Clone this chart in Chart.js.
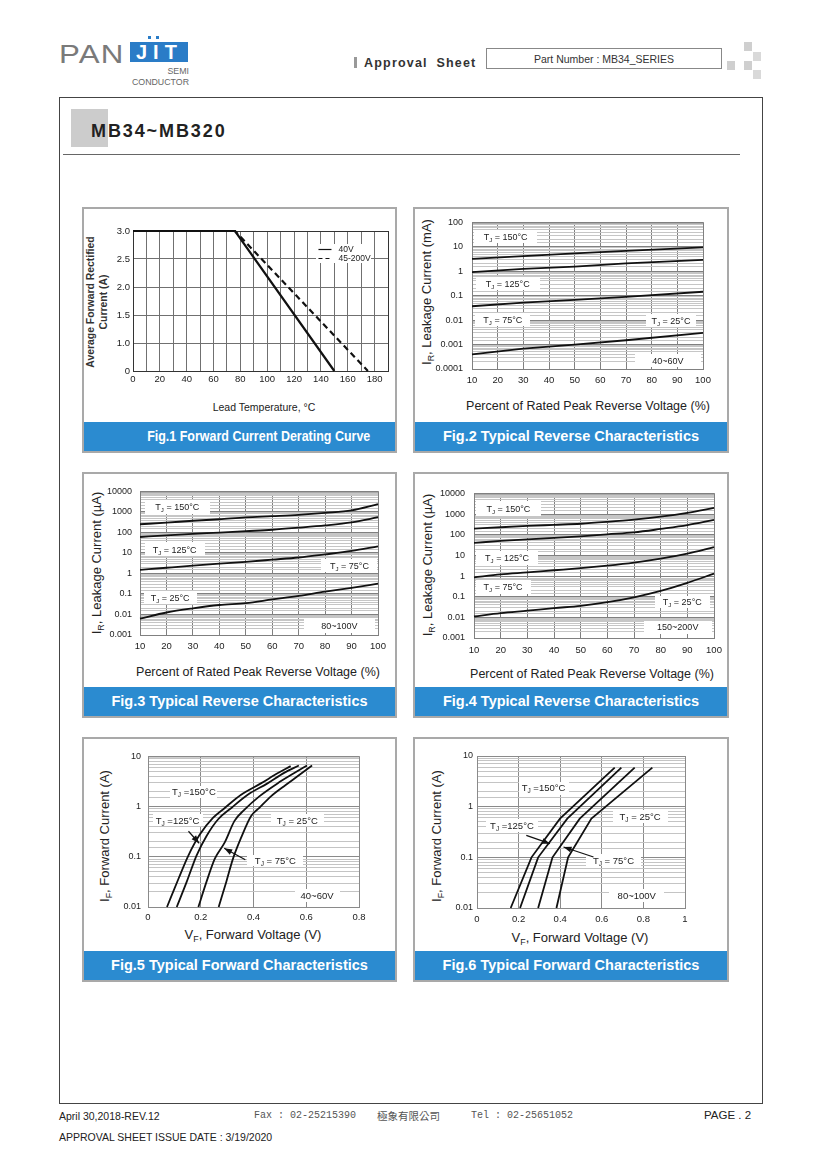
<!DOCTYPE html>
<html>
<head>
<meta charset="utf-8">
<title>MB34~MB320</title>
<script src="https://cdn.jsdelivr.net/npm/chart.js@4.4.1/dist/chart.umd.min.js"></script>
<style>
  body { margin: 0; background: #fff; }
  #page { position: relative; width: 820px; height: 1161px; overflow: hidden; font-family: Arial, "Liberation Sans", sans-serif; color: #222; }
  .t { position: absolute; white-space: nowrap; line-height: 1; }
  .panel { position: absolute; border: 2px solid #a9a9a9; box-sizing: border-box; }
  .cap { position: absolute; left: 0; right: 0; bottom: 0; height: 29px; line-height: 29px; background: #2b8bd0; color: #fff; font-weight: bold; font-size: 14.5px; text-align: center; white-space: nowrap; }
  canvas { position: absolute; }
  .yt { position: absolute; white-space: nowrap; line-height: 1; transform: translate(-50%, -50%) rotate(-90deg); }
  .xt { position: absolute; white-space: nowrap; line-height: 1; transform: translate(-50%, -50%); }
  sub { font-size: 68%; vertical-align: -3px; line-height: 0; }
  .sq { position: absolute; width: 8px; height: 9px; background: #cfcfcf; }
</style>
</head>
<body>
<div id="page">
  <!-- header -->
  <div class="t" style="left:59px;top:42px;font-size:25px;color:#7a7a7a;letter-spacing:1px;transform:scaleX(1.25);transform-origin:left top;">PAN</div>
  <div class="t" style="left:130px;top:42px;width:58px;height:20px;background:#2a7cc7;color:#fff;font-size:20px;font-weight:bold;line-height:21px;letter-spacing:6px;padding-left:6px;box-sizing:border-box;">JIT</div>
  <div class="t" style="left:148px;top:36px;width:3px;height:3px;background:#2a7cc7;"></div>
  <div class="t" style="left:156px;top:36px;width:3px;height:3px;background:#2a7cc7;"></div>
  <div class="t" style="left:131px;top:67px;width:58px;text-align:right;font-size:8.8px;color:#666;">SEMI</div>
  <div class="t" style="left:126px;top:78px;width:63px;text-align:right;font-size:8.8px;color:#666;">CONDUCTOR</div>

  <div class="t" style="left:354px;top:57px;width:3px;height:11px;background:#999;"></div>
  <div class="t" style="left:364px;top:57px;font-size:12.5px;font-weight:bold;letter-spacing:1.2px;word-spacing:4px;color:#333;">Approval Sheet</div>
  <div class="t" style="left:486px;top:48px;width:236px;height:21px;border:1px solid #888;box-sizing:border-box;text-align:center;font-size:10.5px;line-height:20px;color:#333;">Part Number : MB34_SERIES</div>
  <div class="sq" style="left:744px;top:42px;"></div>
  <div class="sq" style="left:753px;top:52px;background:#d9d9d9;"></div>
  <div class="sq" style="left:727px;top:61px;"></div>
  <div class="sq" style="left:744px;top:61px;"></div>
  <div class="sq" style="left:753px;top:70px;background:#d9d9d9;"></div>

  <!-- frame -->
  <div class="t" style="left:59px;top:97px;width:704px;height:1007px;border:1px solid #444;box-sizing:border-box;"></div>
  <div class="t" style="left:71px;top:109px;width:37px;height:38px;background:#cccccc;"></div>
  <div class="t" style="left:91px;top:122px;font-size:18px;font-weight:bold;letter-spacing:1.9px;color:#222;">MB34~MB320</div>
  <div class="t" style="left:63px;top:154px;width:677px;height:1px;background:#666;"></div>

  <!-- panels -->
  <div class="panel" style="left:82px;top:207px;width:315px;height:246px;"><div class="cap" style="padding-left:38px;"><span style="display:inline-block;transform:scaleX(0.86);">Fig.1 Forward Current Derating Curve</span></div></div>
  <div class="panel" style="left:413px;top:207px;width:316px;height:246px;"><div class="cap">Fig.2 Typical Reverse Characteristics</div></div>
  <div class="panel" style="left:82px;top:472px;width:315px;height:246px;"><div class="cap">Fig.3 Typical Reverse Characteristics</div></div>
  <div class="panel" style="left:413px;top:472px;width:316px;height:246px;"><div class="cap">Fig.4 Typical Reverse Characteristics</div></div>
  <div class="panel" style="left:82px;top:737px;width:315px;height:245px;"><div class="cap">Fig.5 Typical Forward Characteristics</div></div>
  <div class="panel" style="left:413px;top:737px;width:316px;height:245px;"><div class="cap">Fig.6 Typical Forward Characteristics</div></div>

  <!-- axis titles -->
  <div class="yt" style="left:97px;top:302px;font-size:10.4px;font-weight:bold;line-height:12.5px;text-align:center;color:#333;">Average Forward Rectified<br>Current (A)</div>
  <div class="xt" style="left:264px;top:407px;font-size:10.5px;">Lead Temperature, °C</div>

  <div class="yt" style="left:426px;top:292px;font-size:13px;">I<sub>R</sub>, Leakage Current (mA)</div>
  <div class="xt" style="left:588px;top:406px;font-size:12.5px;">Percent of Rated Peak Reverse Voltage (%)</div>

  <div class="yt" style="left:96px;top:563px;font-size:13px;">I<sub>R</sub>, Leakage Current (µA)</div>
  <div class="xt" style="left:258px;top:672px;font-size:12.5px;">Percent of Rated Peak Reverse Voltage (%)</div>

  <div class="yt" style="left:427px;top:565px;font-size:13px;">I<sub>R</sub>, Leakage Current (µA)</div>
  <div class="xt" style="left:592px;top:674px;font-size:12.5px;">Percent of Rated Peak Reverse Voltage (%)</div>

  <div class="yt" style="left:104px;top:836px;font-size:13px;">I<sub>F</sub>, Forward Current (A)</div>
  <div class="xt" style="left:253px;top:934px;font-size:13px;">V<sub>F</sub>, Forward Voltage (V)</div>

  <div class="yt" style="left:436px;top:836px;font-size:13px;">I<sub>F</sub>, Forward Current (A)</div>
  <div class="xt" style="left:580px;top:937px;font-size:13px;">V<sub>F</sub>, Forward Voltage (V)</div>

  <canvas id="fig1"></canvas>
  <canvas id="fig2"></canvas>
  <canvas id="fig3"></canvas>
  <canvas id="fig4"></canvas>
  <canvas id="fig5"></canvas>
  <canvas id="fig6"></canvas>

  <!-- footer -->
  <div class="t" style="left:59px;top:1111px;font-size:10.5px;">April 30,2018-REV.12</div>
  <div class="t" style="left:254px;top:1111px;font-size:10px;font-family:'Liberation Mono',monospace;color:#555;">Fax : 02-25215390</div>
  <div class="t" style="left:377px;top:1111px;font-size:10.5px;font-family:'Noto Sans CJK TC',sans-serif;color:#555;">極象有限公司</div>
  <div class="t" style="left:471px;top:1111px;font-size:10px;font-family:'Liberation Mono',monospace;color:#555;">Tel : 02-25651052</div>
  <div class="t" style="left:704px;top:1110px;font-size:11.5px;">PAGE . 2</div>
  <div class="t" style="left:59px;top:1132px;font-size:10.5px;">APPROVAL SHEET ISSUE DATE : 3/19/2020</div>
</div>

<script>
// ---------- data ----------
// Fig.1 Forward current derating (A vs lead temperature, C)
// (the bottom gridline of this figure is labelled "0" in the source)
const fig1Temp40V = [0, 76, 150];
const fig1Amp40V = [3.0, 3.0, 0.5];
const fig1Temp45V = [0, 76, 175];
const fig1Amp45V = [3.0, 3.0, 0.5];
const fig1XTicks = ['0', '20', '40', '60', '80', '100', '120', '140', '160', '180'];
const fig1YTicks = ['0', '1.0', '1.5', '2.0', '2.5', '3.0'];

// Fig.2 Reverse leakage 40~60V (mA vs % of rated voltage)
const fig2Pct = [10, 30, 50, 70, 100];
const fig2Tj150 = [3.2, 4.2, 5.4, 6.8, 9.5];
const fig2Tj125 = [0.92, 1.25, 1.55, 2.1, 2.9];
const fig2Tj75 = [0.037, 0.052, 0.068, 0.09, 0.145];
const fig2Tj25 = [0.0004, 0.00068, 0.001, 0.0015, 0.003];
const fig2YTicks = ['0.0001', '0.001', '0.01', '0.1', '1', '10', '100'];

// Fig.3 Reverse leakage 80~100V (uA)
const pct = [10, 20, 30, 40, 50, 60, 70, 80, 90, 100];
const pctTicks = ['10', '20', '30', '40', '50', '60', '70', '80', '90', '100'];
const fig3Tj150 = [250, 300, 370, 440, 540, 620, 720, 900, 1200, 2400];
const fig3Tj125 = [60, 72, 85, 98, 115, 135, 170, 220, 310, 550];
const fig3Tj75 = [1.5, 1.9, 2.4, 3.0, 3.7, 4.7, 6.0, 8.5, 12.5, 21];
const fig3Tj25 = [0.0062, 0.0125, 0.02, 0.029, 0.036, 0.054, 0.08, 0.13, 0.2, 0.32];
const leakYTicks = ['0.001', '0.01', '0.1', '1', '10', '100', '1000', '10000'];

// Fig.4 Reverse leakage 150~200V (uA)
const fig4Tj150 = [195, 230, 265, 300, 340, 420, 540, 750, 1150, 2000];
const fig4Tj125 = [40, 50, 60, 70, 84, 105, 130, 190, 290, 520];
const fig4Tj75 = [0.87, 1.2, 1.5, 1.9, 2.4, 3.2, 4.5, 7, 12, 25];
const fig4Tj25 = [0.011, 0.016, 0.021, 0.028, 0.036, 0.054, 0.093, 0.19, 0.47, 1.3];

// Fig.5 Forward characteristics 40~60V (A vs V)
const fig5VTj150 = [0.072, 0.116, 0.153, 0.197, 0.247, 0.291, 0.353, 0.428, 0.491, 0.541];
const fig5ITj150 = [0.01, 0.037, 0.106, 0.28, 0.6, 0.94, 1.72, 2.9, 4.6, 6.4];
const fig5VTj125 = [0.109, 0.147, 0.184, 0.222, 0.266, 0.316, 0.378, 0.453, 0.516, 0.572];
const fig5ITj125 = [0.01, 0.032, 0.106, 0.26, 0.56, 0.94, 1.72, 2.9, 4.7, 6.6];
const fig5VTj75 = [0.191, 0.222, 0.253, 0.291, 0.328, 0.366, 0.422, 0.491, 0.553, 0.603];
const fig5ITj75 = [0.01, 0.032, 0.091, 0.194, 0.52, 0.87, 1.6, 2.9, 4.6, 6.6];
const fig5VTj25 = [0.268, 0.297, 0.322, 0.353, 0.391, 0.422, 0.466, 0.522, 0.572, 0.622];
const fig5ITj25 = [0.01, 0.032, 0.091, 0.24, 0.65, 0.94, 1.6, 2.7, 4.2, 6.6];
const fig5XTicks = ['0', '0.2', '0.4', '0.6', '0.8'];
const fwdYTicks = ['0.01', '0.1', '1', '10'];

// Fig.6 Forward characteristics 80~100V
const fig6Current = [0.01, 0.1, 0.58, 5.9];
const fig6VTj150 = [0.162, 0.262, 0.399, 0.662];
const fig6VTj125 = [0.207, 0.294, 0.434, 0.694];
const fig6VTj75 = [0.294, 0.363, 0.494, 0.758];
const fig6VTj25 = [0.382, 0.438, 0.55, 0.843];
const fig6XTicks = ['0', '0.2', '0.4', '0.6', '0.8', '1'];

// ---------- helpers ----------
const FONT = 'Arial, "Liberation Sans", sans-serif';
const AXIS_W = 50, AXIS_H = 26, PAD_T = 10, PAD_R = 20;
Chart.defaults.font.family = FONT;

function isDecade(v) {
  const e = Math.log10(v);
  return Math.abs(e - Math.round(e)) < 1e-6;
}

function series(xs, ys, extra) {
  return Object.assign({
    data: xs.map((x, i) => ({ x: x, y: ys[i] })),
    borderColor: '#111', borderWidth: 1.8, pointRadius: 0, fill: false, tension: 0, clip: 3
  }, extra || {});
}

function xAxis(min, max, step, pad, color, label) {
  return {
    type: 'linear', min: min, max: max,
    afterFit: s => { s.height = AXIS_H; },
    border: { display: false },
    grid: { drawTicks: false, color: color },
    ticks: { stepSize: step, autoSkip: false, maxRotation: 0, padding: pad, color: '#222',
             font: { size: 9.5 }, callback: label }
  };
}

function logAxis(min, max, labels, pad, major, minor) {
  const minExp = Math.round(Math.log10(min));
  return {
    type: 'logarithmic', min: min, max: max,
    afterFit: s => { s.width = AXIS_W; },
    border: { display: false },
    grid: { drawTicks: false, color: c => (c.tick && isDecade(c.tick.value)) ? major : minor },
    ticks: { autoSkip: false, padding: pad, color: '#222', font: { size: 9 },
             callback: v => isDecade(v) ? labels[Math.round(Math.log10(v)) - minExp] : '' }
  };
}

// boxes, labels, arrows and the plot frame
const notes = {
  id: 'notes',
  beforeDatasetsDraw(chart, args, o) {
    const { ctx, chartArea: a, scales: { x, y } } = chart;
    ctx.save();
    ctx.strokeStyle = o.frame;
    ctx.lineWidth = 1;
    ctx.strokeRect(a.left + 0.5, a.top + 0.5, a.right - a.left, a.bottom - a.top);
    const size = o.size || 9;
    (o.boxes || []).forEach(b => {
      const cx = x.getPixelForValue(b.at[0]), cy = y.getPixelForValue(b.at[1]);
      ctx.fillStyle = '#fff';
      ctx.fillRect(Math.round(cx - b.w / 2), Math.round(cy - b.h / 2), b.w, b.h);
      ctx.fillStyle = '#222';
      ctx.textBaseline = 'alphabetic';
      const base = cy + size * 0.36;
      if (Array.isArray(b.text)) {
        ctx.font = size + 'px ' + FONT;
        const w1 = ctx.measureText(b.text[0]).width, w3 = ctx.measureText(b.text[2]).width;
        ctx.font = (size * 0.68) + 'px ' + FONT;
        const w2 = ctx.measureText(b.text[1]).width;
        let sx = cx - (w1 + w2 + w3) / 2;
        ctx.font = size + 'px ' + FONT;
        ctx.fillText(b.text[0], sx, base);
        ctx.font = (size * 0.68) + 'px ' + FONT;
        ctx.fillText(b.text[1], sx + w1, base + 2);
        ctx.font = size + 'px ' + FONT;
        ctx.fillText(b.text[2], sx + w1 + w2, base);
      } else {
        ctx.font = size + 'px ' + FONT;
        ctx.textAlign = 'center';
        ctx.fillText(b.text, cx, base);
        ctx.textAlign = 'left';
      }
    });
    if (o.legend) {
      const L = o.legend;
      const lx = x.getPixelForValue(L.at[0]), ly = y.getPixelForValue(L.at[1]);
      ctx.fillStyle = '#fff';
      ctx.fillRect(Math.round(lx), Math.round(ly), L.w, L.h);
      ctx.font = '8.5px ' + FONT;
      ctx.textBaseline = 'middle';
      L.items.forEach((it, i) => {
        const yy = Math.round(ly + 5 + i * 9.5) + 0.5;
        ctx.strokeStyle = '#111';
        ctx.lineWidth = 1.2;
        ctx.setLineDash(it.dash || []);
        ctx.beginPath(); ctx.moveTo(lx + 2, yy); ctx.lineTo(lx + 15, yy); ctx.stroke();
        ctx.setLineDash([]);
        ctx.fillStyle = '#222';
        ctx.fillText(it.label, lx + 22, yy);
      });
    }
    ctx.restore();
  },
  afterDatasetsDraw(chart, args, o) {
    const { ctx, scales: { x, y } } = chart;
    ctx.save();
    ctx.strokeStyle = '#111';
    ctx.fillStyle = '#111';
    ctx.lineWidth = 1.2;
    (o.arrows || []).forEach(ar => {
      const x1 = x.getPixelForValue(ar.from[0]), y1 = y.getPixelForValue(ar.from[1]);
      const x2 = x.getPixelForValue(ar.to[0]), y2 = y.getPixelForValue(ar.to[1]);
      const ang = Math.atan2(y2 - y1, x2 - x1);
      ctx.beginPath(); ctx.moveTo(x1, y1); ctx.lineTo(x2, y2); ctx.stroke();
      ctx.beginPath();
      ctx.moveTo(x2, y2);
      ctx.lineTo(x2 - 8 * Math.cos(ang) + 3 * Math.sin(ang), y2 - 8 * Math.sin(ang) - 3 * Math.cos(ang));
      ctx.lineTo(x2 - 8 * Math.cos(ang) - 3 * Math.sin(ang), y2 - 8 * Math.sin(ang) + 3 * Math.cos(ang));
      ctx.closePath(); ctx.fill();
    });
    ctx.restore();
  }
};

function makeChart(id, rect, datasets, scales, noteOpts) {
  const cv = document.getElementById(id);
  const [L, T, R, B] = rect;
  cv.width = R - L + AXIS_W + PAD_R;
  cv.height = B - T + PAD_T + AXIS_H;
  cv.style.left = (L - AXIS_W) + 'px';
  cv.style.top = (T - PAD_T) + 'px';
  return new Chart(cv.getContext('2d'), {
    type: 'line',
    data: { datasets: datasets },
    options: {
      responsive: false, animation: false, events: [], devicePixelRatio: 1,
      layout: { padding: { top: PAD_T, right: PAD_R, left: 0, bottom: 0 } },
      plugins: { legend: { display: false }, tooltip: { enabled: false }, notes: noteOpts },
      scales: scales
    },
    plugins: [notes]
  });
}

const T = (t) => ['T', 'J', t];

// ---------- Fig.1 ----------
makeChart('fig1', [133, 231, 388, 371],
  [series(fig1Temp40V, fig1Amp40V, { borderWidth: 2.2 }),
   series(fig1Temp45V, fig1Amp45V, { borderWidth: 2.2, borderDash: [6, 4] })],
  {
    x: xAxis(0, 190, 10, 3, '#707070', v => {
      const n = Math.round(v);
      return (n % 20 === 0 && n <= 180) ? fig1XTicks[n / 20] : '';
    }),
    y: {
      type: 'linear', min: 0.5, max: 3,
      afterFit: s => { s.width = AXIS_W; },
      border: { display: false },
      grid: { drawTicks: false, color: '#707070' },
      ticks: { stepSize: 0.5, autoSkip: false, padding: 3, color: '#222', font: { size: 9.5 },
               callback: (v, i) => fig1YTicks[i] }
    }
  },
  { frame: '#333', legend: { at: [136.7, 2.77], w: 55, h: 19,
    items: [{ label: '40V' }, { label: '45-200V', dash: [4, 3] }] } });

// ---------- Fig.2 ----------
const revGrid = { major: '#808080', minor: '#c6c6c6' };
makeChart('fig2', [472, 218, 703, 369],
  [series(fig2Pct, fig2Tj150), series(fig2Pct, fig2Tj125), series(fig2Pct, fig2Tj75), series(fig2Pct, fig2Tj25)],
  {
    x: xAxis(10, 100, 10, 6, '#808080', (v, i) => pctTicks[i]),
    y: logAxis(0.0001, 100, fig2YTicks, 9, revGrid.major, revGrid.minor)
  },
  { frame: '#808080', size: 9, boxes: [
    { at: [23.1, 27], w: 63, h: 13, text: T(' = 150°C') },
    { at: [23.9, 0.31], w: 64, h: 13, text: T(' = 125°C') },
    { at: [22, 0.0105], w: 55, h: 13, text: T(' = 75°C') },
    { at: [87.5, 0.0096], w: 50, h: 13, text: T(' = 25°C') },
    { at: [86.3, 0.00022], w: 66, h: 13, text: '40~60V' }
  ] });

// ---------- Fig.3 ----------
const smooth = { cubicInterpolationMode: 'monotone' };
makeChart('fig3', [140, 488, 378, 635],
  [series(pct, fig3Tj150, smooth), series(pct, fig3Tj125, smooth), series(pct, fig3Tj75, smooth), series(pct, fig3Tj25, smooth)],
  {
    x: xAxis(10, 100, 10, 6, '#808080', (v, i) => pctTicks[i]),
    y: logAxis(0.001, 10000, leakYTicks, 8, revGrid.major, revGrid.minor)
  },
  { frame: '#808080', size: 9, boxes: [
    { at: [24.1, 1780], w: 65, h: 14, text: T(' = 150°C') },
    { at: [23.1, 15], w: 60, h: 14, text: T(' = 125°C') },
    { at: [89.2, 2.45], w: 56, h: 13, text: T(' = 75°C') },
    { at: [21.4, 0.069], w: 53, h: 13, text: T(' = 25°C') },
    { at: [85.4, 0.00285], w: 71, h: 15, text: '80~100V' }
  ] });

// ---------- Fig.4 ----------
makeChart('fig4', [474, 489, 714, 638],
  [series(pct, fig4Tj150, smooth), series(pct, fig4Tj125, smooth), series(pct, fig4Tj75, smooth), series(pct, fig4Tj25, smooth)],
  {
    x: xAxis(10, 100, 10, 7, '#808080', (v, i) => pctTicks[i]),
    y: logAxis(0.001, 10000, leakYTicks, 9, revGrid.major, revGrid.minor)
  },
  { frame: '#808080', size: 9, boxes: [
    { at: [22.9, 1870], w: 65, h: 15, text: T(' = 150°C') },
    { at: [22.4, 7.8], w: 62, h: 14, text: T(' = 125°C') },
    { at: [20.9, 0.30], w: 55, h: 14, text: T(' = 75°C') },
    { at: [88.1, 0.054], w: 55, h: 12, text: T(' = 25°C') },
    { at: [86.4, 0.0034], w: 68, h: 13, text: '150~200V' }
  ] });

// ---------- Fig.5 ----------
const fwdGrid = { major: '#8a8a8a', minor: '#c4c4c4' };
makeChart('fig5', [148, 754, 359, 907],
  [series(fig5VTj150, fig5ITj150, smooth), series(fig5VTj125, fig5ITj125, smooth),
   series(fig5VTj75, fig5ITj75, smooth), series(fig5VTj25, fig5ITj25, smooth)],
  {
    x: xAxis(0, 0.8, 0.2, 5, '#8a8a8a', (v, i) => fig5XTicks[i]),
    y: logAxis(0.01, 10, fwdYTicks, 7, fwdGrid.major, fwdGrid.minor)
  },
  { frame: '#8a8a8a', size: 9.5, boxes: [
    { at: [0.174, 1.97], w: 47, h: 12, text: T(' =150°C') },
    { at: [0.112, 0.53], w: 50, h: 12, text: T(' =125°C') },
    { at: [0.566, 0.53], w: 53, h: 12, text: T(' = 25°C') },
    { at: [0.483, 0.085], w: 56, h: 11, text: T(' = 75°C') },
    { at: [0.641, 0.0172], w: 45, h: 13, text: '40~60V' }
  ], arrows: [
    { from: [0.1535, 0.323], to: [0.194, 0.186] },
    { from: [0.369, 0.0873], to: [0.289, 0.148] }
  ] });

// ---------- Fig.6 ----------
makeChart('fig6', [477, 756, 685, 908],
  [series(fig6VTj150, fig6Current), series(fig6VTj125, fig6Current),
   series(fig6VTj75, fig6Current), series(fig6VTj25, fig6Current)],
  {
    x: xAxis(0, 1, 0.2, 6, '#8a8a8a', (v, i) => fig6XTicks[i]),
    y: logAxis(0.01, 10, fwdYTicks, 4, fwdGrid.major, fwdGrid.minor)
  },
  { frame: '#8a8a8a', size: 9.5, boxes: [
    { at: [0.32, 2.33], w: 50, h: 13, text: T(' =150°C') },
    { at: [0.168, 0.43], w: 52, h: 13, text: T(' =125°C') },
    { at: [0.784, 0.65], w: 55, h: 13, text: T(' = 25°C') },
    { at: [0.656, 0.087], w: 55, h: 12, text: T(' = 75°C') },
    { at: [0.768, 0.0173], w: 55, h: 13, text: '80~100V' }
  ], arrows: [
    { from: [0.237, 0.272], to: [0.351, 0.186] },
    { from: [0.56, 0.1016], to: [0.416, 0.16] }
  ] });
</script>
</body>
</html>
